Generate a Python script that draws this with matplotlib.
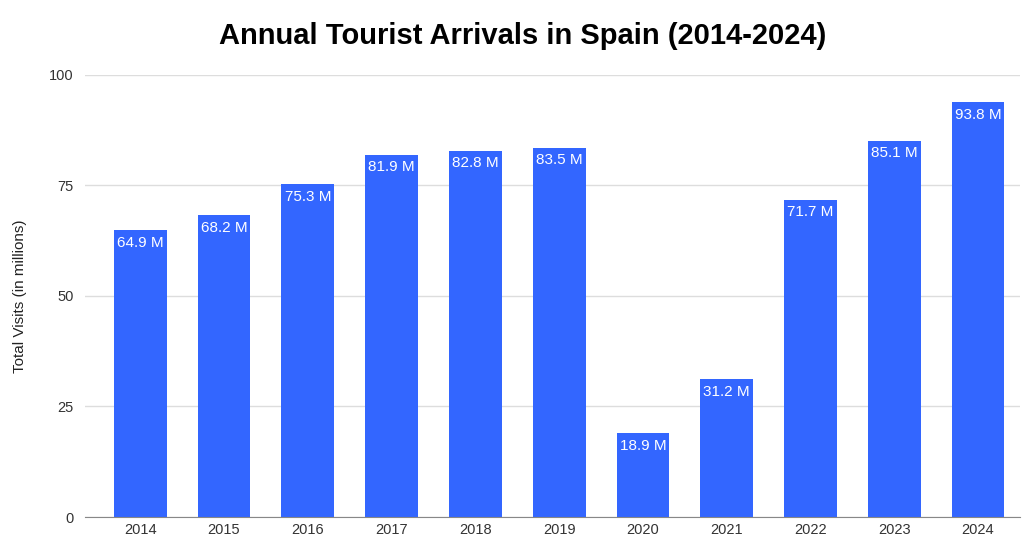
import matplotlib
matplotlib.use('Agg')
import matplotlib.pyplot as plt

years = ['2014', '2015', '2016', '2017', '2018', '2019', '2020', '2021', '2022', '2023', '2024']
visitas = [64.9, 68.2, 75.3, 81.9, 82.8, 83.5, 18.9, 31.2, 71.7, 85.1, 93.8]
etiquetas = [f"{v} M" for v in visitas]
yticks = [0, 25, 50, 75, 100]

plt.rcParams['font.family'] = ['Liberation Sans', 'DejaVu Sans']

fig = plt.figure(figsize=(10.24, 5.38), dpi=100)
ax = fig.add_axes([0.083, 0.039, 0.913, 0.822])

x = list(range(len(years)))
barras = ax.bar(x, visitas, width=0.63, color='#3366ff', zorder=3)

# etiquetas blancas dentro de la barra, arriba
for b, txt in zip(barras, etiquetas):
    ax.annotate(txt, (b.get_x() + b.get_width() / 2, b.get_height()),
                xytext=(0, -4), textcoords='offset points',
                ha='center', va='top', color='white', fontsize=11, zorder=4)

ax.set_ylim(0, 100)
ax.set_xlim(-0.66, 10.5)
ax.set_yticks(yticks)
ax.set_xticks(x)
ax.set_xticklabels(years)
ax.tick_params(axis='both', length=0, labelsize=10.5, colors='#333333')
ax.tick_params(axis='y', pad=8)
ax.tick_params(axis='x', pad=4)
ax.grid(axis='y', color='#dddddd', linewidth=1, zorder=0)
for s in ['top', 'right', 'left']:
    ax.spines[s].set_visible(False)
ax.spines['bottom'].set_color('#888888')
ax.spines['bottom'].set_zorder(5)

ax.set_ylabel('Total Visits (in millions)', fontsize=11, color='#222222')
ax.yaxis.set_label_coords(-0.062, 0.5)

fig.suptitle('Annual Tourist Arrivals in Spain (2014-2024)', fontsize=21, fontweight='bold',
             y=0.96, x=0.51)

fig.savefig('out.png', dpi=100)
